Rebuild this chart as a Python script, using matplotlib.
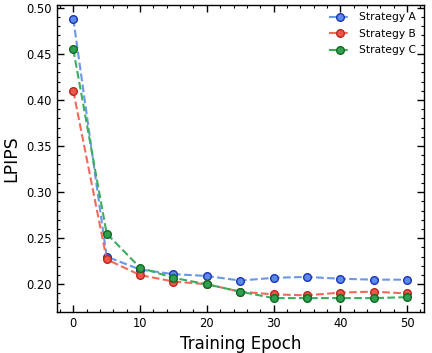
import matplotlib
matplotlib.use("Agg")
import matplotlib.pyplot as plt
from matplotlib.ticker import MultipleLocator

epochs = [0, 5, 10, 15, 20, 25, 30, 35, 40, 45, 50]
strategy_a = [0.488, 0.230, 0.216, 0.211, 0.209, 0.204, 0.207, 0.208, 0.206, 0.205, 0.205]
strategy_b = [0.410, 0.227, 0.210, 0.203, 0.200, 0.192, 0.189, 0.188, 0.191, 0.192, 0.190]
strategy_c = [0.455, 0.255, 0.218, 0.207, 0.200, 0.192, 0.185, 0.185, 0.185, 0.185, 0.186]
labels = ["Strategy A", "Strategy B", "Strategy C"]

fig = plt.figure(figsize=(4.32, 3.53), dpi=100)
ax = fig.add_axes([0.131, 0.116, 0.85, 0.870])

styles = [
    ("#6a97e8", "#5b8ae8", "#1a33b8"),
    ("#f26a5a", "#f0554a", "#b8281c"),
    ("#3aae5e", "#2ea04f", "#0e6a22"),
]
for data, lab, (lc, fc, ec) in zip([strategy_a, strategy_b, strategy_c], labels, styles):
    ax.plot(epochs, data, linestyle="--", color=lc, linewidth=1.5,
            marker="o", markersize=5.5, markerfacecolor=fc, markeredgecolor=ec,
            markeredgewidth=1.0, label=lab)

ax.xaxis.set_major_locator(MultipleLocator(10))
ax.xaxis.set_minor_locator(MultipleLocator(2))
ax.yaxis.set_major_locator(MultipleLocator(0.05))
ax.yaxis.set_minor_locator(MultipleLocator(0.01))
ax.tick_params(which="both", direction="in", top=True, right=True, labelsize=8.3)
ax.tick_params(which="major", length=5, width=1)
ax.tick_params(which="minor", length=2.5, width=0.8)
for s in ax.spines.values():
    s.set_linewidth(1.0)

ax.set_xlabel("Training Epoch", fontsize=12)
ax.set_ylabel("LPIPS", fontsize=12.5)
ax.legend(loc="upper right", frameon=False, fontsize=7.7, handlelength=2.0,
          borderaxespad=0.3, labelspacing=0.6)

fig.savefig("out.png", dpi=100)
